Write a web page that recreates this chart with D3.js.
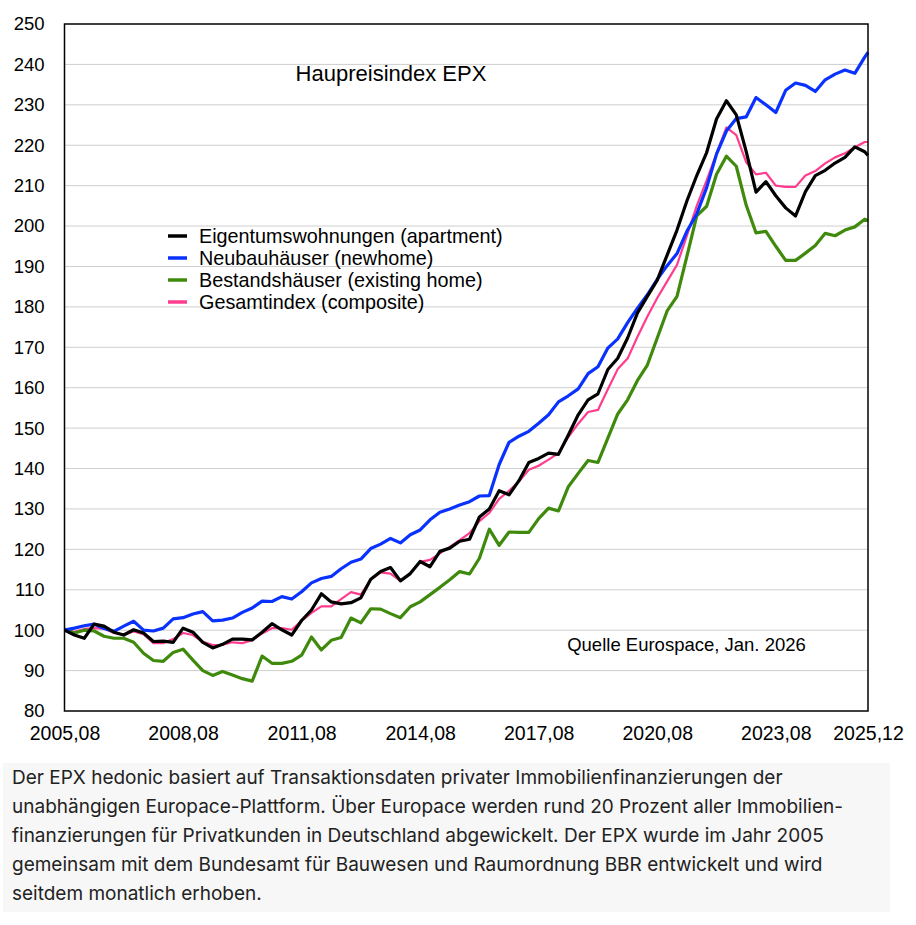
<!DOCTYPE html>
<html>
<head>
<meta charset="utf-8">
<style>
  body { margin: 0; background: #fff; }
  #chart text { font-family: "Liberation Sans", Arial, sans-serif; }
  #caption {
    position: absolute; left: 3px; top: 763px; width: 878px;
    padding: 0px 0px 4px 9px;
    background: #f7f7f7;
    font-family: Inter, "Noto Sans", sans-serif;
    font-size: 19px; line-height: 29px; color: #222;
    white-space: nowrap;
  }
</style>
</head>
<body>
<svg id="chart"></svg>
<div id="caption">Der EPX hedonic basiert auf Transaktionsdaten privater Immobilienfinanzierungen der<br>unabhängigen Europace-Plattform. Über Europace werden rund 20 Prozent aller Immobilien-<br>finanzierungen für Privatkunden in Deutschland abgewickelt. Der EPX wurde im Jahr 2005<br>gemeinsam mit dem Bundesamt für Bauwesen und Raumordnung BBR entwickelt und wird<br>seitdem monatlich erhoben.</div>
<script src="https://cdn.jsdelivr.net/npm/d3@7/dist/d3.min.js"></script>
<script>

// months since 2005,08
var months = [0,3,6,9,12,15,18,21,24,27,30,33,36,39,42,45,48,51,54,57,60,63,66,69,72,75,78,81,84,87,90,93,96,99,
  102,105,108,111,114,117,120,123,126,129,132,135,138,141,144,147,150,153,156,159,162,165,168,171,174,177,180,183,
  186,189,192,195,198,201,204,207,210,213,216,219,222,225,228,231,234,237,240,243,244];

var eigentum = [100,98.8,98,101.5,101,99.5,98.8,100.1,99.3,97.2,97.3,97,100.5,99.5,97,95.6,96.5,97.8,97.8,97.6,
  99.5,101.6,100.1,98.8,102.4,105,109,107,106.5,106.8,108,112.6,114.5,115.5,112.2,114,117,115.7,119.5,120.3,122,
  122.5,128,130,134.5,133.5,137,141.5,142.5,143.8,143.5,148.3,153.3,157,158.5,164.5,167.3,172.3,178.5,182.6,186.6,
  192.8,199,206.2,212.5,218.2,226.5,231,227.5,218.5,208.4,211,207.5,204.5,202.5,208.5,212.5,213.8,215.6,217,219.6,
  218.4,217.5];

var neubau = [100,100.5,101.1,101.5,100.4,99.7,101,102.2,100,99.8,100.5,102.8,103.1,104,104.6,102.3,102.5,103,
  104.4,105.5,107.2,107.1,108.3,107.7,109.5,111.7,112.8,113.3,115.2,116.8,117.6,120.2,121.3,122.7,121.6,123.6,124.8,
  127.3,129.2,130,131,131.8,133.2,133.3,141,146.5,148,149.2,151.2,153.3,156.5,158,159.7,163.5,165.2,169.8,172.1,
  176.1,179.7,183,186.8,190.2,193.2,198.7,203,209.5,217.8,223.5,226.6,227,231.8,230,228.1,233.6,235.4,234.8,233.3,
  236.2,237.6,238.6,237.8,241.8,243];

var bestand = [100.3,99.3,100,99.8,98.5,98,98,97,94.3,92.5,92.3,94.5,95.3,92.6,90,88.8,89.8,88.9,88,87.4,93.6,91.8,
  91.8,92.3,93.8,98.3,95.1,97.5,98.2,103,101.8,105.3,105.2,104.1,103.1,105.8,107,108.8,110.6,112.5,114.5,113.9,117.8,
  125,121,124.3,124.2,124.2,127.6,130.2,129.5,135.5,138.8,142,141.5,147.5,153.5,157,161.8,165.6,172.3,179,182.6,
  192.5,202.5,204.9,212.8,217.3,214.8,205.2,198.3,198.7,195,191.5,191.5,193.3,195.2,198.2,197.6,199,199.8,201.7,201.4];

var gesamt = [100,99.6,100.3,100.5,100.4,99.3,98.9,99.7,99,96.8,96.8,97.8,99.3,98.8,97.1,96.3,96.4,97,96.8,97.5,
  99.2,100.5,100.5,100.1,102.3,104.3,105.9,105.9,107.7,109.4,108.8,112.5,114.3,114,112.2,114,116.9,117.4,119,120.6,
  122.3,124,127,129,132.5,134.5,136.8,139.7,140.7,142.2,143.8,147.8,151.1,154,154.5,159.6,164.6,167.2,172.6,177.6,
  182.2,186.3,190.4,197.6,205,211.3,218,224.4,222.5,215.8,212.8,213.2,210,209.7,209.7,212.5,213.6,215.5,217,218,
  219.5,220.8,220.8];

var seriesNames = ["Eigentumswohnungen (apartment)", "Neubauhäuser (newhome)",
                   "Bestandshäuser (existing home)", "Gesamtindex (composite)"];
var seriesColors = ["#000000", "#0a32ff", "#3f8a0c", "#ff3c8e"];
var seriesWidths = [3.2, 3.2, 3.2, 2.2];

var xTickMonths = [0,36,72,108,144,180,216,244];
var xTickLabels = ["2005,08","2008,08","2011,08","2014,08","2017,08","2020,08","2023,08","2025,12"];
var yTicks = [80,90,100,110,120,130,140,150,160,170,180,190,200,210,220,230,240,250];

var screen = {width:916, height:760};
var plot = {left:64.5, right:868, top:24, bottom:711};

var svg = d3.select("#chart")
    .attr("width",screen.width)
    .attr("height",screen.height)

var xScale = d3.scaleLinear()
    .domain([0,244])
    .range([plot.left,plot.right])

var yScale = d3.scaleLinear()
    .domain([80,250])
    .range([plot.bottom,plot.top])

//horizontal gridlines
svg.append("g")
    .selectAll("line")
    .data(yTicks.slice(1,-1))
    .enter()
    .append("line")
    .attr("x1",plot.left)
    .attr("x2",plot.right)
    .attr("y1",function(d){return yScale(d);})
    .attr("y2",function(d){return yScale(d);})
    .attr("stroke","#cfcfcf")
    .attr("stroke-width",1)

var yAxis = d3.axisLeft(yScale)
    .tickValues(yTicks)
    .tickSize(0)
    .tickPadding(20)

svg.append("g")
    .attr("transform","translate("+plot.left+",0)")
    .call(yAxis)
    .call(function(g){g.select(".domain").remove();})
    .selectAll("text")
    .attr("font-size",18.5)
    .attr("fill","#000")

var xAxis = d3.axisBottom(xScale)
    .tickValues(xTickMonths)
    .tickFormat(function(d,i){return xTickLabels[i];})
    .tickSize(0)
    .tickPadding(15)

svg.append("g")
    .attr("transform","translate(0,"+plot.bottom+")")
    .call(xAxis)
    .call(function(g){g.select(".domain").remove();})
    .selectAll("text")
    .attr("font-size",19.5)
    .attr("fill","#000")

var line = d3.line()
    .x(function(d){return xScale(d[0]);})
    .y(function(d){return yScale(d[1]);})

var allSeries = [eigentum, neubau, bestand, gesamt];
var drawOrder = [3,2,1,0];

drawOrder.forEach(function(i)
{
    svg.append("path")
        .datum(months.map(function(m,j){return [m, allSeries[i][j]];}))
        .attr("d",line)
        .attr("fill","none")
        .attr("stroke",seriesColors[i])
        .attr("stroke-width",seriesWidths[i])
        .attr("stroke-linejoin","round")
})

//frame
svg.append("rect")
    .attr("x",plot.left)
    .attr("y",plot.top)
    .attr("width",plot.right-plot.left)
    .attr("height",plot.bottom-plot.top)
    .attr("fill","none")
    .attr("stroke","#000")
    .attr("stroke-width",1.5)

svg.append("text")
    .attr("x",391)
    .attr("y",81)
    .attr("text-anchor","middle")
    .attr("font-size",22)
    .text("Haupreisindex EPX")

svg.append("text")
    .attr("x",686.5)
    .attr("y",651)
    .attr("text-anchor","middle")
    .attr("font-size",18.5)
    .text("Quelle Eurospace, Jan. 2026")

var legend = svg.append("g")
    .selectAll("g")
    .data(seriesNames)
    .enter()
    .append("g")
    .attr("transform",function(d,i){return "translate(168,"+(236+i*22)+")";})

legend.append("line")
    .attr("x1",0)
    .attr("x2",19)
    .attr("stroke",function(d,i){return seriesColors[i];})
    .attr("stroke-width",3.5)

legend.append("text")
    .attr("x",31)
    .attr("y",6.5)
    .attr("font-size",19.8)
    .text(function(d){return d;})

</script>
</body>
</html>
